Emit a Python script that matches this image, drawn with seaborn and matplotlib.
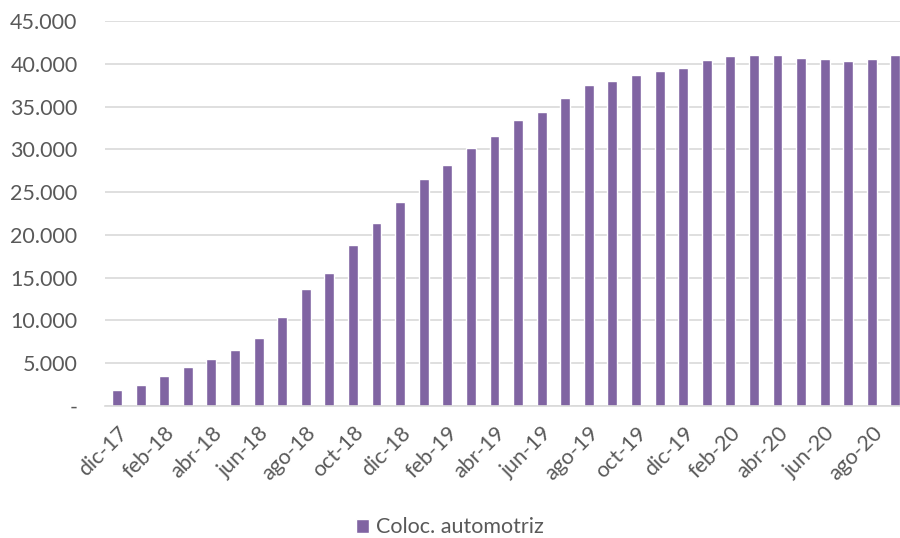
import numpy as np
import pandas as pd
import matplotlib
matplotlib.use('Agg')
import matplotlib.pyplot as plt
import seaborn as sns
from matplotlib.ticker import FuncFormatter

# Datos (saldo mensual, dic-17 a sep-20)
meses = ['dic-17', 'ene-18', 'feb-18', 'mar-18', 'abr-18', 'may-18', 'jun-18',
         'jul-18', 'ago-18', 'sep-18', 'oct-18', 'nov-18', 'dic-18',
         'ene-19', 'feb-19', 'mar-19', 'abr-19', 'may-19', 'jun-19',
         'jul-19', 'ago-19', 'sep-19', 'oct-19', 'nov-19', 'dic-19',
         'ene-20', 'feb-20', 'mar-20', 'abr-20', 'may-20', 'jun-20',
         'jul-20', 'ago-20', 'sep-20']
colocaciones = [1900, 2450, 3550, 4550, 5500, 6500, 7900,
                10400, 13700, 15500, 18800, 21400, 23900,
                26500, 28200, 30100, 31600, 33400, 34400,
                36000, 37500, 38000, 38700, 39200, 39500,
                40400, 40900, 41000, 41000, 40700, 40600,
                40300, 40500, 41000]
serie = 'Coloc. automotriz'

df = pd.DataFrame({'Mes': meses, 'Valor': colocaciones})

sns.set_style('white')
plt.rcParams['font.family'] = ['Lato', 'DejaVu Sans']

fig = plt.figure(figsize=(9, 5.38), dpi=100)
ax = fig.add_axes([0.117, 0.2454, 0.891, 0.7156])

sns.barplot(data=df, x='Mes', y='Valor', color='#8064a2', width=0.42,
            saturation=1, label=serie, ax=ax)

ax.set_ylim(0, 45000)
ax.set_xlim(-0.5, 33.5)
ax.set_yticks(np.arange(0, 45001, 5000))
ax.yaxis.set_major_formatter(FuncFormatter(
    lambda v, p: '-' if v == 0 else f'{int(v):,}'.replace(',', '.')))
ax.grid(axis='y', color='#d9d9d9', linewidth=1.2)
ax.set_axisbelow(True)
for s in ['top', 'right', 'left']:
    ax.spines[s].set_visible(False)
ax.spines['bottom'].set_color('#d9d9d9')
ax.spines['bottom'].set_linewidth(1.2)

ax.set_xticks(range(0, len(meses), 2))
ax.set_xticklabels(meses[::2], rotation=45, ha='right', rotation_mode='anchor')
ax.tick_params(axis='both', length=0, labelsize=15.5, labelcolor='#595959')
ax.tick_params(axis='y', pad=20)
ax.tick_params(axis='x', pad=12)
ax.set_xlabel('')
ax.set_ylabel('')

ax.legend(loc='lower center', bbox_to_anchor=(0.5, -0.035), bbox_transform=fig.transFigure,
          frameon=False, fontsize=15.5, handlelength=0.6, handleheight=0.6,
          handletextpad=0.3, labelcolor='#595959')

fig.savefig('out.png', dpi=100)
